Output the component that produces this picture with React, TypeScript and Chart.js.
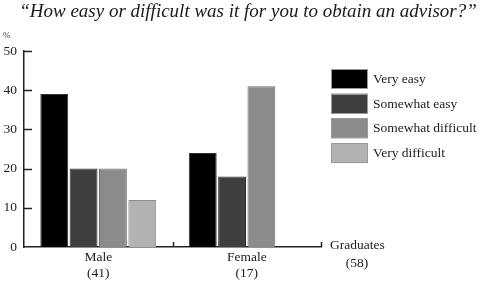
import React, { useEffect, useRef } from 'react';
import { Chart, registerables } from 'chart.js';
Chart.register(...registerables);

const categories = [['Male', '(41)'], ['Female', '(17)']];
const seriesNames = ['Very easy', 'Somewhat easy', 'Somewhat difficult', 'Very difficult'];
const veryEasy = [39, 24];
const somewhatEasy = [20, 18];
const somewhatDifficult = [20, 41];
const veryDifficult: (number | null)[] = [12, null];
const yTickValues = [0, 10, 20, 30, 40, 50];
const fillColors = ['#000000', '#3e3e3e', '#8b8b8b', '#b2b2b2'];
const borderColors = ['#333333', '#2c2c2c', '#6f6f6f', '#8f8f8f'];
const titleText = '\u201CHow easy or difficult was it for you to obtain an advisor?\u201D';
const unitLabel = '%';
const axisTitle = ['Graduates', '(58)'];

const SERIF = '"Liberation Serif", "DejaVu Serif", serif';

export default function App() {
  const ref = useRef<HTMLCanvasElement | null>(null);

  useEffect(() => {
    const canvas = ref.current;
    if (!canvas) return;
    const seriesValues = [veryEasy, somewhatEasy, somewhatDifficult, veryDifficult];

    const decorPlugin = {
      id: 'decor',
      afterDraw(chart: any) {
        const { ctx, chartArea, scales } = chart;
        const xs = scales.x;
        const ys = scales.y;
        ctx.save();
        // title
        ctx.fillStyle = '#1a1a1a';
        ctx.font = `italic 19px ${SERIF}`;
        ctx.textAlign = 'center';
        ctx.textBaseline = 'alphabetic';
        ctx.fillText(titleText, 248, 17);
        // unit label
        ctx.font = `9px ${SERIF}`;
        ctx.textAlign = 'left';
        ctx.textBaseline = 'middle';
        ctx.fillStyle = '#333';
        ctx.fillText(unitLabel, 3, 36);
        // inward y ticks
        ctx.strokeStyle = '#222';
        ctx.lineWidth = 1.5;
        ys.ticks.forEach((t: any) => {
          if (t.value === 0) return;
          const y = Math.round(ys.getPixelForValue(t.value)) + 0.5;
          ctx.beginPath();
          ctx.moveTo(chartArea.left, y);
          ctx.lineTo(chartArea.left + 8, y);
          ctx.stroke();
        });
        // inward x ticks at category boundaries
        const n = xs.ticks.length;
        const bounds: number[] = [];
        for (let i = 1; i < n; i++) {
          bounds.push((xs.getPixelForValue(i - 1) + xs.getPixelForValue(i)) / 2);
        }
        bounds.push(chartArea.right);
        bounds.forEach((bx) => {
          const x = Math.round(bx) + 0.5;
          ctx.beginPath();
          ctx.moveTo(x, chartArea.bottom);
          ctx.lineTo(x, chartArea.bottom - 5);
          ctx.stroke();
        });
        // axis title
        ctx.fillStyle = '#222';
        ctx.font = `13.5px ${SERIF}`;
        ctx.textAlign = 'left';
        ctx.textBaseline = 'middle';
        ctx.fillText(axisTitle[0], 330, 245);
        ctx.textAlign = 'center';
        ctx.fillText(axisTitle[1], 357, 263);
        // legend
        chart.data.datasets.forEach((ds: any, i: number) => {
          const top = 69 + i * 24.7;
          ctx.fillStyle = ds.backgroundColor;
          ctx.fillRect(331, top, 37, 20);
          ctx.strokeStyle = '#9a9a9a';
          ctx.lineWidth = 1;
          ctx.strokeRect(331.5, Math.round(top) + 0.5, 36, 19);
          ctx.fillStyle = '#222';
          ctx.textAlign = 'left';
          ctx.textBaseline = 'middle';
          ctx.font = `13.5px ${SERIF}`;
          ctx.fillText(ds.label, 373, top + 10.5);
        });
        ctx.restore();
      },
    };

    const chart = new Chart(canvas, {
      type: 'bar',
      data: {
        labels: categories,
        datasets: seriesNames.map((name, i) => ({
          label: name,
          data: seriesValues[i],
          backgroundColor: fillColors[i],
          borderColor: borderColors[i],
          borderWidth: 1,
          categoryPercentage: 0.79,
          barPercentage: 0.95,
        })),
      },
      options: {
        animation: false,
        responsive: false,
        devicePixelRatio: 1,
        layout: { padding: { left: 0, right: 164, top: 51, bottom: 0 } },
        plugins: {
          legend: { display: false },
          title: { display: false },
          tooltip: { enabled: false },
        },
        scales: {
          x: {
            type: 'category',
            offset: true,
            grid: { display: false, drawTicks: false, tickLength: 0 },
            border: { display: true, color: '#222', width: 1.5 },
            ticks: {
              font: { family: SERIF, size: 13.5, lineHeight: 1.2 },
              color: '#222',
              padding: 2,
              maxRotation: 0,
              autoSkip: false,
            },
            afterFit: (s: any) => {
              s.height = 37;
            },
          },
          y: {
            min: 0,
            max: 50,
            afterBuildTicks: (s: any) => {
              s.ticks = yTickValues.map((v) => ({ value: v }));
            },
            grid: { display: false, drawTicks: false, tickLength: 0 },
            border: { display: true, color: '#222', width: 1.5 },
            ticks: {
              font: { family: SERIF, size: 13.5 },
              color: '#222',
              padding: 7,
            },
            afterFit: (s: any) => {
              s.width = 24;
            },
          },
        },
      },
      plugins: [decorPlugin],
    });
    return () => chart.destroy();
  }, []);

  return (
    <div style={{ position: 'fixed', left: 0, top: 0, width: 485, height: 284, background: '#fff' }}>
      <canvas ref={ref} width={485} height={284} style={{ display: 'block', width: 485, height: 284 }} />
    </div>
  );
}
